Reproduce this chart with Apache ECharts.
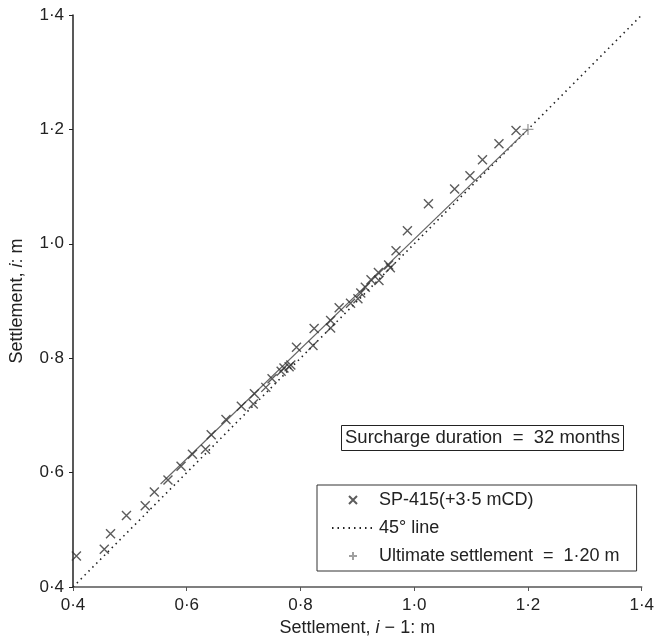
<!DOCTYPE html>
<html>
<head>
<meta charset="utf-8">
<script src="https://cdn.jsdelivr.net/npm/echarts@6/dist/echarts.min.js"></script>
<style>html,body{margin:0;padding:0;background:#fff}#c{width:657px;height:642px}</style>
</head>
<body>
<div id="c"></div>
<script>
// Settlement i-1 (x) and settlement i (y), metres
const prevSettlement = [0.406,0.455,0.466,0.494,0.527,0.543,0.567,0.590,0.610,0.633,0.643,0.669,0.696,0.717,0.719,0.739,0.750,0.766,0.771,0.780,0.783,0.793,0.822,0.824,0.853,0.853,0.868,0.888,0.901,0.906,0.914,0.924,0.938,0.937,0.955,0.958,0.968,0.988,1.025,1.071,1.098,1.120,1.149,1.179];
const currSettlement = [0.454,0.466,0.493,0.525,0.542,0.566,0.587,0.611,0.632,0.641,0.666,0.693,0.716,0.720,0.738,0.749,0.764,0.777,0.783,0.785,0.788,0.819,0.822,0.852,0.853,0.866,0.888,0.896,0.904,0.914,0.924,0.937,0.936,0.950,0.963,0.958,0.988,1.023,1.070,1.096,1.119,1.147,1.175,1.198];
const lineX45 = [0.4, 1.4];
const lineY45 = [0.4, 1.4];
const fitX = [0.554, 1.2];
const fitY = [0.58, 1.2];
const ultimateX = [1.2];
const ultimateY = [1.2];
const tickValues = [0.4, 0.6, 0.8, 1.0, 1.2, 1.4];
const tickLabels = ['0·4', '0·6', '0·8', '1·0', '1·2', '1·4'];

const zip = (a, b) => a.map((v, i) => [v, b[i]]);
const fmt = v => {
  const i = tickValues.findIndex(t => Math.abs(t - v) < 1e-6);
  return i >= 0 ? tickLabels[i] : '';
};
const FONT = 'Liberation Sans, Arial, sans-serif';
const crossPath = 'path://M0,0L10,10M10,0L0,10';
const plusPath = 'path://M5,0L5,10M0,5L10,5';

const chart = echarts.init(document.getElementById('c'), null, {renderer: 'canvas'});
chart.setOption({
  animation: false,
  backgroundColor: '#fff',
  textStyle: {fontFamily: FONT},
  grid: {left: 71, right: 14, top: 15, bottom: 55},
  title: {
    text: 'Surcharge duration  =  32 months',
    left: 341, top: 425,
    padding: [3, 4, 3, 4],
    borderColor: '#222', borderWidth: 1,
    textStyle: {fontFamily: FONT, fontSize: 18.5, fontWeight: 'normal', color: '#222', lineHeight: 20}
  },
  legend: {
    orient: 'vertical',
    left: 317, top: 485,
    width: 320,
    padding: [5, 17, 5, 14],
    itemGap: 8,
    itemWidth: 42, itemHeight: 8,
    borderColor: '#333', borderWidth: 1,
    textStyle: {fontFamily: FONT, fontSize: 18, color: '#222', lineHeight: 20},
    data: [
      {name: 'SP-415(+3·5 mCD)', icon: crossPath},
      {name: '45° line', itemStyle: {opacity: 0}},
      {name: 'Ultimate settlement  =  1·20 m', icon: plusPath}
    ]
  },
  xAxis: {
    type: 'value', min: 0.4, max: 1.4, interval: 0.2,
    name: 'Settlement, {i|i} − 1: m',
    nameLocation: 'middle', nameGap: 28,
    nameTextStyle: {fontFamily: FONT, fontSize: 18, color: '#222',
      rich: {i: {fontFamily: FONT, fontSize: 18, fontStyle: 'italic', color: '#222'}}},
    axisLine: {lineStyle: {color: '#555', width: 1.5}},
    axisTick: {inside: false, length: 4, lineStyle: {color: '#555'}},
    axisLabel: {formatter: fmt, fontFamily: FONT, fontSize: 17, color: '#222', margin: 10},
    splitLine: {show: false}
  },
  yAxis: {
    type: 'value', min: 0.4, max: 1.4, interval: 0.2,
    name: 'Settlement, {i|i}: m',
    nameLocation: 'middle', nameGap: 47,
    nameTextStyle: {fontFamily: FONT, fontSize: 18, color: '#222',
      rich: {i: {fontFamily: FONT, fontSize: 18, fontStyle: 'italic', color: '#222'}}},
    axisLine: {lineStyle: {color: '#222', width: 1.5}},
    axisTick: {inside: false, length: 4, lineStyle: {color: '#222'}},
    axisLabel: {formatter: fmt, fontFamily: FONT, fontSize: 17, color: '#222', margin: 9},
    splitLine: {show: false}
  },
  series: [
    {
      name: 'fit', type: 'line', data: zip(fitX, fitY),
      symbol: 'none', itemStyle: {color: '#666'}, lineStyle: {color: '#666', width: 1.2}, z: 2
    },
    {
      name: '45° line', type: 'line', data: zip(lineX45, lineY45),
      symbol: 'none', itemStyle: {color: '#222'},
      lineStyle: {color: '#222', width: 1.6, type: [1.5, 4]}, z: 1
    },
    {
      name: 'SP-415(+3·5 mCD)', type: 'scatter', data: zip(prevSettlement, currSettlement),
      symbol: crossPath, symbolSize: 9, symbolKeepAspect: true,
      itemStyle: {color: 'none', borderColor: '#333', borderWidth: 1.4}, z: 3
    },
    {
      name: 'Ultimate settlement  =  1·20 m', type: 'scatter', data: zip(ultimateX, ultimateY),
      symbol: plusPath, symbolSize: 11, symbolKeepAspect: true,
      itemStyle: {color: 'none', borderColor: '#888', borderWidth: 1.4}, z: 4
    }
  ]
});
</script>
</body>
</html>
